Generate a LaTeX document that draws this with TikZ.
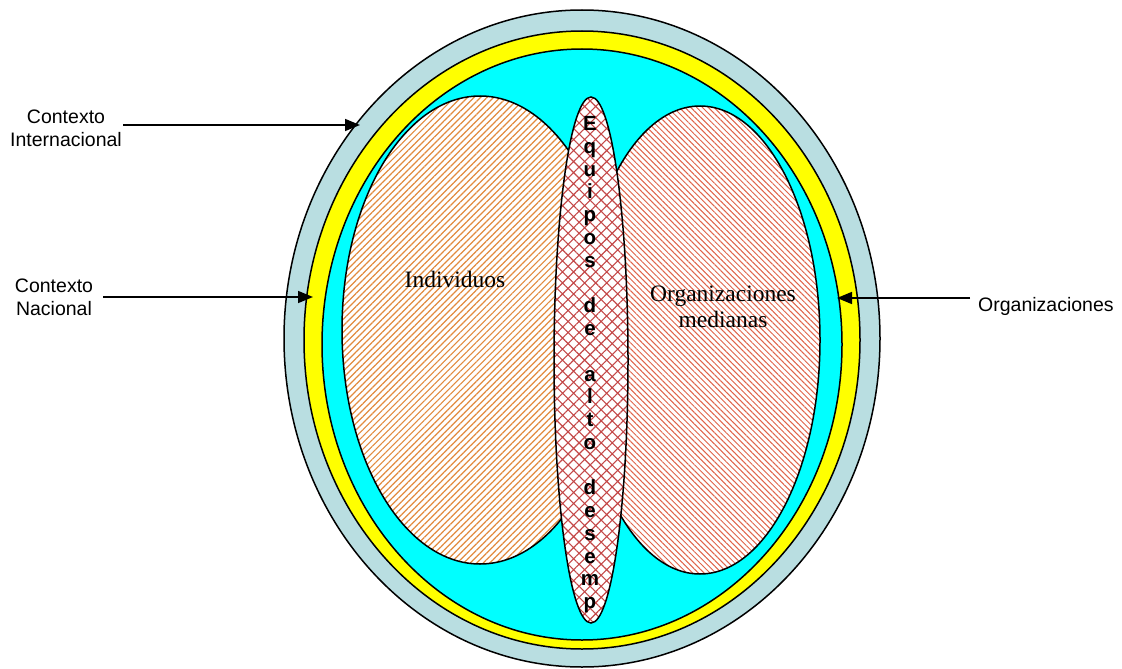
\documentclass[tikz,border=0pt]{standalone}
\usepackage{fontspec}
\setmainfont{Liberation Sans}
\newfontfamily\serifrm{Liberation Serif}
\usetikzlibrary{patterns.meta,arrows.meta}
\definecolor{bandblue}{RGB}{185,222,225}
\definecolor{aqua}{RGB}{0,255,255}
\definecolor{brightyellow}{RGB}{255,255,0}
\definecolor{stripeor}{RGB}{226,138,62}
\definecolor{stripered}{RGB}{224,100,74}
\definecolor{hatchred}{RGB}{196,72,72}
\begin{document}
\begin{tikzpicture}[x=1pt,y=-1pt,
  ring/.style={draw=black,line width=1.5pt},
  lbl/.style={font=\fontsize{19.5}{23}\selectfont,align=center,inner sep=0pt},
  ser/.style={font=\serifrm\fontsize{23.5}{26.5}\selectfont,align=center,inner sep=0pt},
  vlet/.style={font=\bfseries\fontsize{20.5}{22}\selectfont,anchor=base,inner sep=0pt},
  arr/.style={line width=1.6pt,-{Triangle[length=15pt,width=12pt]}}]
\useasboundingbox (0,0) rectangle (1122,669);
\fill[white] (0,0) rectangle (1122,669);
% rings
\draw[ring,fill=bandblue] (582,338.5) ellipse [x radius=298,y radius=328.5];
\draw[ring,fill=brightyellow] (582,340) ellipse [x radius=278,y radius=309];
\draw[ring,fill=aqua] (582,344.5) ellipse [x radius=260,y radius=295.5];
% left ellipse
\fill[white] (480,330) ellipse [x radius=138,y radius=234];
\fill[pattern={Lines[angle=45,distance=4.6pt,line width=1.2pt]},pattern color=stripeor] (480,330) ellipse [x radius=138,y radius=234];
\draw[ring] (480,330) ellipse [x radius=138,y radius=234];
% right ellipse
\fill[white] (700,340) ellipse [x radius=120,y radius=234];
\fill[pattern={Lines[angle=-45,distance=4.1pt,line width=1pt]},pattern color=stripered] (700,340) ellipse [x radius=120,y radius=234];
\draw[ring] (700,340) ellipse [x radius=120,y radius=234];
% central ellipse
\fill[white] (591,360) ellipse [x radius=37,y radius=263];
\fill[pattern={Hatch[angle=45,distance=7.8pt,line width=1.1pt]},pattern color=hatchred] (591,360) ellipse [x radius=37,y radius=263];
\draw[ring] (591,360) ellipse [x radius=37,y radius=263];
% vertical letters
\foreach \i/\c in {0/E,1/q,2/u,3/i,4/p,5/o,6/s,8/d,9/e,11/a,12/l,13/t,14/o,16/d,17/e,18/s,19/e,20/m,21/p}
  \node[vlet] (let\i) at (590,130.7+\i*22.76) {\c};
% inner labels
\node[ser,anchor=base] (indiv) at (455,287) {Individuos};
\node[ser] (orgmed) at (723,307) {Organizaciones\\medianas};
% outer labels
\node[lbl] (intl) at (66,128.5) {Contexto\\Internacional};
\node[lbl] (nac) at (54,297.3) {Contexto\\Nacional};
\node[lbl,anchor=base west] (org) at (978,311.7) {Organizaciones};
% arrows
\coordinate (intlS) at (123,125);
\coordinate (intlT) at (360,125);
\coordinate (nacS) at (103,297);
\coordinate (nacT) at (313,297);
\coordinate (orgS) at (970,298);
\coordinate (orgT) at (837,298);
\draw[arr] (intlS) -- (intlT);
\draw[arr] (nacS) -- (nacT);
\draw[arr] (orgS) -- (orgT);
\end{tikzpicture}
\end{document}
